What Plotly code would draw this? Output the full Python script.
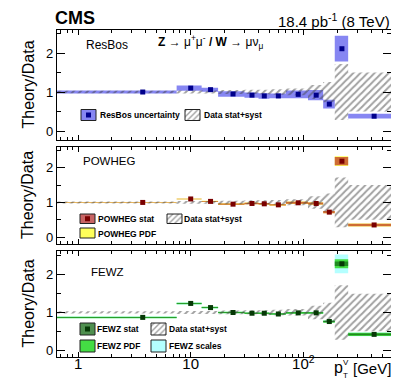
import math
import plotly.graph_objects as go

# bin edges in pT (GeV) and marker positions
bin_lo = [0, 7.5, 12.5, 17.5, 30, 40, 50, 70, 110, 150, 190, 250]
bin_hi = [7.5, 12.5, 17.5, 30, 40, 50, 70, 110, 150, 190, 250, 600]
bin_x = [3.75, 10, 15, 23.75, 35, 45, 60, 90, 130, 170, 220, 425]

# data stat+syst band (ratio to data)
data_lo = [0.97, 0.96, 0.96, 0.95, 0.95, 0.94, 0.93, 0.92, 0.82, 0.74, 0.28, 0.50]
data_hi = [1.03, 1.04, 1.04, 1.05, 1.06, 1.06, 1.07, 1.09, 1.18, 1.26, 1.72, 1.50]

# ResBos
resbos = [1.00, 1.10, 1.06, 0.95, 0.92, 0.90, 0.90, 0.94, 0.92, 0.69, 2.11, 0.38]
resbos_unc = [0.04, 0.07, 0.05, 0.07, 0.07, 0.07, 0.06, 0.10, 0.13, 0.11, 0.33, 0.06]

# POWHEG
powheg = [1.00, 1.10, 1.03, 0.95, 0.97, 0.96, 0.93, 0.99, 0.97, 0.72, 2.19, 0.35]
powheg_stat = [0.008, 0.008, 0.012, 0.02, 0.02, 0.02, 0.02, 0.03, 0.03, 0.03, 0.12, 0.035]
powheg_pdf = [0.012, 0.012, 0.016, 0.025, 0.025, 0.025, 0.025, 0.035, 0.035, 0.035, 0.14, 0.045]

# FEWZ
fewz = [0.87, 1.24, 1.13, 1.00, 0.98, 0.98, 0.96, 0.99, 0.99, 0.76, 2.29, 0.42]
fewz_stat = [0.008, 0.01, 0.01, 0.01, 0.01, 0.01, 0.01, 0.012, 0.012, 0.015, 0.06, 0.025]
fewz_pdf = [0.02, 0.02, 0.02, 0.02, 0.02, 0.02, 0.02, 0.025, 0.025, 0.03, 0.12, 0.045]
fewz_scale = [0.022, 0.025, 0.025, 0.022, 0.022, 0.022, 0.022, 0.027, 0.027, 0.032, 0.25, 0.047]

FONT = "Liberation Sans, Arial, Helvetica, sans-serif"
XMIN = 0.65

# plot area in pixels (for placing text/legend)
L, R, T, B = 49, 383, 22, 349


def px(p):
    return (p - L) / (R - L)


def py(p):
    return (B - p) / (B - T)


def boxes(center, half):
    xs, ys = [], []
    for lo, hi, c, h in zip(bin_lo, bin_hi, center, half):
        lo = max(lo, 0.5)
        xs += [lo, hi, hi, lo, lo, None]
        ys += [c - h, c - h, c + h, c + h, c - h, None]
    return xs, ys


def band(lo_vals, hi_vals):
    xs, ys = [], []
    for lo, hi, v in zip(bin_lo, bin_hi, hi_vals):
        xs += [max(lo, 0.5), hi]
        ys += [v, v]
    for lo, hi, v in reversed(list(zip(bin_lo, bin_hi, lo_vals))):
        xs += [hi, max(lo, 0.5)]
        ys += [v, v]
    return xs + [xs[0]], ys + [ys[0]]


HATCH = dict(shape="/", fgcolor="#444444", bgcolor="rgba(0,0,0,0)", size=5, solidity=0.4)

fig = go.Figure()


def add_box(center, half, color, xa, ya):
    xs, ys = boxes(center, half)
    fig.add_trace(go.Scatter(x=xs, y=ys, fill="toself", fillcolor=color, mode="none",
                             xaxis=xa, yaxis=ya, hoverinfo="skip", showlegend=False))


def add_data_band(xa, ya):
    xs, ys = band(data_lo, data_hi)
    fig.add_trace(go.Scatter(x=xs, y=ys, fill="toself", fillpattern=HATCH, fillcolor="rgba(0,0,0,0)",
                             mode="none", xaxis=xa, yaxis=ya, hoverinfo="skip", showlegend=False))


def add_points(vals, color, xa, ya):
    fig.add_trace(go.Scatter(x=bin_x, y=vals, mode="markers",
                             marker=dict(symbol="square", size=5, color=color),
                             xaxis=xa, yaxis=ya, showlegend=False))


# panel 1: ResBos
add_box(resbos, resbos_unc, "#8686f2", "x", "y")
add_data_band("x", "y")
add_points(resbos, "#00008b", "x", "y")

# panel 2: POWHEG
add_box(powheg, powheg_pdf, "#ffff5a", "x2", "y2")
add_box(powheg, powheg_stat, "rgba(185,45,35,0.7)", "x2", "y2")
add_data_band("x2", "y2")
add_points(powheg, "#7a0000", "x2", "y2")

# panel 3: FEWZ
add_box(fewz, fewz_scale, "#b4ffff", "x3", "y3")
add_box(fewz, fewz_pdf, "#44dd44", "x3", "y3")
add_box(fewz, fewz_stat, "rgba(20,110,20,0.75)", "x3", "y3")
add_data_band("x3", "y3")
add_points(fewz, "#063806", "x3", "y3")


# legends, drawn on a pixel overlay axis
def swatch(x0, y0, x1, y1, fill=None, pattern=None, marker=None):
    fig.add_trace(go.Scatter(
        x=[x0, x1, x1, x0, x0], y=[y0, y0, y1, y1, y0], fill="toself",
        fillcolor=fill or "rgba(0,0,0,0)", fillpattern=pattern,
        mode="lines", line=dict(color="#222", width=1),
        xaxis="x4", yaxis="y4", hoverinfo="skip", showlegend=False))
    if marker:
        fig.add_trace(go.Scatter(x=[(x0 + x1) / 2], y=[(y0 + y1) / 2], mode="markers",
                                 marker=dict(symbol="square", size=5, color=marker),
                                 xaxis="x4", yaxis="y4", hoverinfo="skip", showlegend=False))


legend_pattern = dict(shape="/", fgcolor="#444444", bgcolor="white", size=4, solidity=0.35)

swatch(73, 101.5, 88, 112.5, fill="#8686f2", marker="#00008b")
swatch(177, 101.5, 192, 112.5, pattern=legend_pattern)
swatch(72, 206, 87, 215.5, fill="#c86464", marker="#7a0000")
swatch(72, 220, 87, 230, fill="#ffff5a")
swatch(159, 206, 174, 215.5, pattern=legend_pattern)
swatch(72, 315, 87, 327, fill="#4f8f4f", marker="#063806")
swatch(72, 332, 87, 344, fill="#44dd44")
swatch(143, 315, 158, 327, pattern=legend_pattern)
swatch(143, 332, 158, 344, fill="#b4ffff")

annotations = []


def text(s, x, y, size, anchor="left", bold=False, angle=0, vanchor="middle"):
    annotations.append(dict(
        text=f"<b>{s}</b>" if bold else s, x=px(x), y=py(y), xref="paper", yref="paper",
        xanchor=anchor, yanchor=vanchor, showarrow=False, textangle=angle, borderpad=0,
        font=dict(family=FONT, size=size, color="black")))


text("CMS", 46, 10.5, 18, bold=True)
text("18.4 pb<sup>-1</sup> (8 TeV)", 383, 12, 15, anchor="right")
text("<b>Z</b> → μ<sup>+</sup>μ<sup>-</sup> <b>/ W</b> → μν<sub>μ</sub>", 149, 34, 12)
text("ResBos", 77, 36.5, 12)
text("POWHEG", 74, 152.5, 11.5)
text("FEWZ", 82, 264, 11.5)

text("ResBos uncertainty", 91, 107, 8.5, bold=True)
text("Data stat+syst", 195, 107, 8.5, bold=True)
text("POWHEG stat", 89, 211, 8.5, bold=True)
text("POWHEG PDF", 89, 225.5, 8.5, bold=True)
text("Data stat+syst", 175, 211, 8.5, bold=True)
text("FEWZ stat", 88, 321, 8.5, bold=True)
text("FEWZ PDF", 88, 338, 8.5, bold=True)
text("Data stat+syst", 160, 321, 8.5, bold=True)
text("FEWZ scales", 160, 338, 8.5, bold=True)

for yc in (77, 187.5, 296):
    text("Theory/Data", 19.5, yc, 16, anchor="center", angle=-90)

text("p", 325, 359, 16)
text("V", 334, 355, 8)
text("T", 334, 367, 8)
text("[GeV]", 384, 360.5, 15, anchor="right")

minor_x = [0.7, 0.8, 0.9] + [d * m for m in (1, 10, 100) for d in range(2, 10)]
minor_x = [v for v in minor_x if v <= 600]


def xaxis(anchor, labels=False):
    return dict(
        type="log", range=[math.log10(XMIN), math.log10(600)], anchor=anchor,
        showline=True, linecolor="black", linewidth=1.2, mirror="ticks",
        ticks="inside", ticklen=5, tickwidth=1, tickcolor="black",
        tickvals=[1, 10, 100], ticktext=["1", "10", "10<sup>2</sup>"],
        showticklabels=labels, tickfont=dict(family=FONT, size=15, color="black"),
        ticklabelstandoff=-7,
        minor=dict(ticks="inside", ticklen=2.5, tickwidth=1, tickcolor="black",
                   tickvals=minor_x, showgrid=False),
        showgrid=False, zeroline=False, domain=[0, 1])


def yaxis(anchor, dom, rng):
    return dict(
        range=rng, domain=dom, anchor=anchor,
        showline=True, linecolor="black", linewidth=1.2, mirror="ticks",
        ticks="inside", ticklen=8, tickwidth=1, tickcolor="black",
        tickvals=[0, 1, 2], tickfont=dict(family=FONT, size=13, color="black"),
        minor=dict(ticks="inside", ticklen=4, tickwidth=1, tickcolor="black",
                   tickvals=[0.5, 1.5, 2.5], showgrid=False),
        showgrid=False, zeroline=False)


fig.update_layout(
    width=399, height=387,
    margin=dict(l=L, r=399 - R, t=T, b=387 - B),
    paper_bgcolor="white", plot_bgcolor="rgba(0,0,0,0)",
    showlegend=False,
    xaxis=xaxis("y"),
    yaxis=yaxis("x", [py(132), 1.0], [-0.23, 2.59]),
    xaxis2=xaxis("y2"),
    yaxis2=yaxis("x2", [py(236), py(139)], [-0.2, 2.6]),
    xaxis3=xaxis("y3", labels=True),
    yaxis3=yaxis("x3", [0.0, py(243)], [-0.18, 2.63]),
    xaxis4=dict(domain=[0, 1], range=[L, R], anchor="y4", visible=False),
    yaxis4=dict(domain=[0, 1], range=[B, T], anchor="x4", visible=False),
    annotations=annotations,
)

fig.write_html("out.html")
